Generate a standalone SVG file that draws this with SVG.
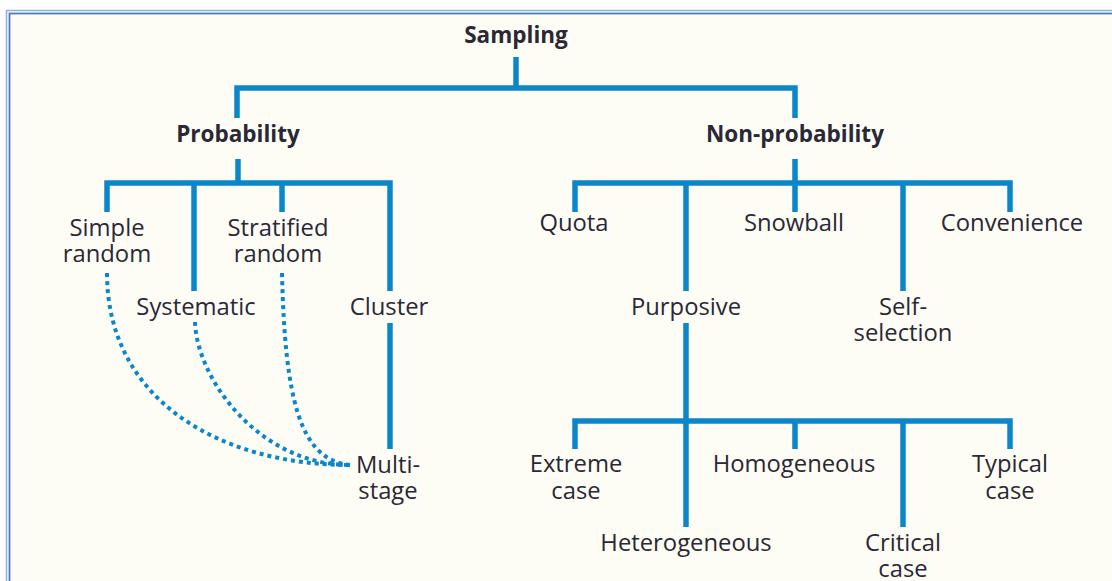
<svg xmlns="http://www.w3.org/2000/svg" width="1112" height="581" viewBox="0 0 1112 581">
  <style>
    .bg { fill: #fdfdf5; }
    .frame-outer { fill: none; stroke: #8fb0dc; stroke-width: 1.5; }
    .frame-inner { fill: none; stroke: #4a7cc4; stroke-width: 1.8; }
    .link { fill: none; stroke: #0b87c9; stroke-width: 5.5; stroke-linecap: butt; stroke-linejoin: miter; }
    .dots { fill: none; stroke: #0b87c9; stroke-width: 4; stroke-dasharray: 4 4; }
    text { font-family: "Open Sans", "Noto Sans", "DejaVu Sans", sans-serif; fill: #2a2836; text-anchor: middle; }
    .head { font-size: 22.5px; font-weight: 700; }
    .leaf { font-size: 23.8px; font-weight: 400; }
  </style>

  <!-- page background and double frame -->
  <rect x="0" y="0" width="1112" height="581" fill="#ffffff"/>
  <rect class="bg" x="10" y="14" width="1110" height="580"/>
  <rect class="frame-outer" x="6.5" y="10.5" width="1120" height="600"/>
  <rect class="frame-inner" x="9.5" y="13.5" width="1120" height="600"/>

  <!-- tree connectors -->
  <g id="connectors">
    <!-- Sampling to the two families -->
    <path class="link" d="M516,57 V88 M237,118 V88 H795 V118"/>
    <!-- Probability branches -->
    <path class="link" d="M238,159 V183 M107,212 V183 H390 V291 M194,183 V291 M282,183 V212"/>
    <!-- Cluster to Multi-stage -->
    <path class="link" d="M390,323 V449"/>
    <!-- Non-probability branches -->
    <path class="link" d="M795,159 V183 M575,212 V183 H1010 V212 M686,183 V291 M795,183 V212 M903,183 V291"/>
    <!-- Purposive branches -->
    <path class="link" d="M686,323 V527 M575,449 V421 H1010 V449 M795,421 V449 M903,421 V527"/>
    <!-- dotted links into Multi-stage -->
    <path class="dots" d="M107,273 C107,400 220,465 350,465"/>
    <path class="dots" d="M195,322 C197,380 260,465 350,465"/>
    <path class="dots" d="M282,273 C285,400 300,460 350,465"/>
  </g>

  <g id="sampling"><text class="head" x="516" y="43">Sampling</text></g>
  <g id="probability"><text class="head" x="238" y="142">Probability</text></g>
  <g id="non-probability"><text class="head" x="795" y="142">Non-probability</text></g>

  <g id="simple-random"><text class="leaf" x="107" y="236">Simple</text><text class="leaf" x="107" y="262">random</text></g>
  <g id="stratified-random"><text class="leaf" x="278" y="236">Stratified</text><text class="leaf" x="278" y="262">random</text></g>
  <g id="systematic"><text class="leaf" x="196" y="315">Systematic</text></g>
  <g id="cluster"><text class="leaf" x="389" y="315">Cluster</text></g>
  <g id="multi-stage"><text class="leaf" x="388" y="473">Multi-</text><text class="leaf" x="388" y="499">stage</text></g>

  <g id="quota"><text class="leaf" x="574" y="231">Quota</text></g>
  <g id="snowball"><text class="leaf" x="794" y="231">Snowball</text></g>
  <g id="convenience"><text class="leaf" x="1012" y="231">Convenience</text></g>
  <g id="purposive"><text class="leaf" x="686" y="315">Purposive</text></g>
  <g id="self-selection"><text class="leaf" x="903" y="315">Self-</text><text class="leaf" x="903" y="341">selection</text></g>

  <g id="extreme-case"><text class="leaf" x="576" y="472">Extreme</text><text class="leaf" x="576" y="499">case</text></g>
  <g id="homogeneous"><text class="leaf" x="794" y="472">Homogeneous</text></g>
  <g id="typical-case"><text class="leaf" x="1010" y="472">Typical</text><text class="leaf" x="1010" y="499">case</text></g>
  <g id="heterogeneous"><text class="leaf" x="686" y="551">Heterogeneous</text></g>
  <g id="critical-case"><text class="leaf" x="903" y="551">Critical</text><text class="leaf" x="903" y="577">case</text></g>
</svg>
